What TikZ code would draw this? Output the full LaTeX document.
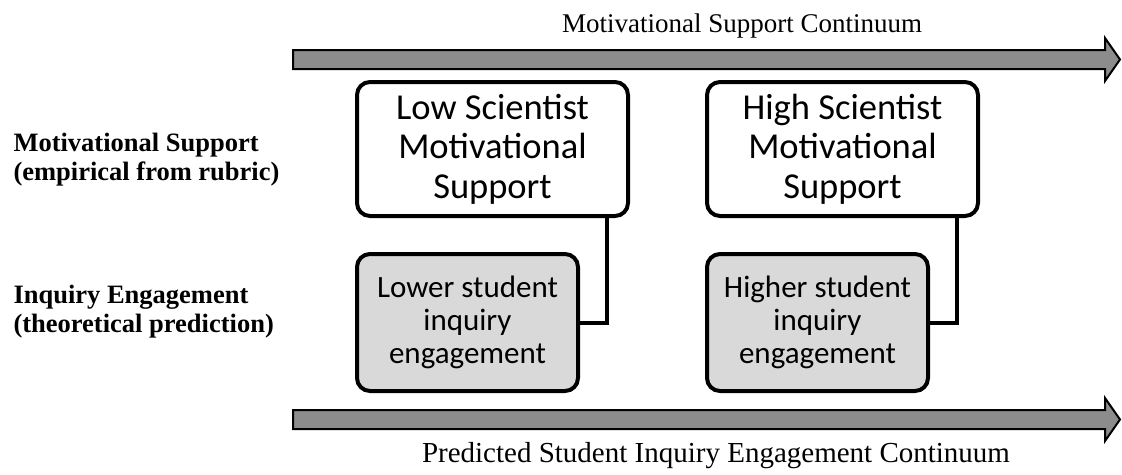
\documentclass[tikz,border=0pt]{standalone}
\usepackage{fontspec}
\setmainfont{Liberation Serif}
\newfontfamily\boxfont{Carlito}
\usetikzlibrary{positioning}

\tikzset{
  support/.style={draw,line width=4pt,rounded corners=13pt,fill=white,
    minimum width=271pt,minimum height=134pt,align=center,
    font=\boxfont\fontsize{36.5}{39.5}\selectfont},
  engage/.style={support,fill=black!15,minimum width=221pt,minimum height=137pt,
    font=\boxfont\fontsize{31}{33}\selectfont},
  rowlabel/.style={anchor=west,align=left,font=\bfseries\fontsize{26.5}{29}\selectfont},
  axislabel/.style={font=\fontsize{27}{30}\selectfont},
  link/.style={line width=4pt},
  band/.style={draw=black,fill=black!45,line width=2pt,line join=miter}
}

\begin{document}
\begin{tikzpicture}[x=1pt,y=-1pt]
  \useasboundingbox (0,0) rectangle (1122,474);

  % continuum arrows
  \draw[band] (293,50) -- (1105,50) -- (1105,38) -- (1120,59.5) -- (1105,81)
    -- (1105,69) -- (293,69) -- cycle;
  \draw[band] (293,410) -- (1105,410) -- (1105,398) -- (1120,419.5) -- (1105,441)
    -- (1105,429) -- (293,429) -- cycle;
  \node[axislabel] (supaxis) at (742,26) {Motivational Support Continuum};
  \node[axislabel,font=\fontsize{29}{32}\selectfont] (engaxis) at (716,456) {Predicted Student Inquiry Engagement Continuum};

  % row labels
  \node[rowlabel] (suplabel) at (10,160) {Motivational Support\\(empirical from rubric)};
  \node[rowlabel] (englabel) at (10,312) {Inquiry Engagement\\(theoretical prediction)};

  % boxes
  \node[support] (lowsup) at (492.5,149) {Low Scientist\\Motivational\\Support};
  \node[support] (highsup) [right=75pt of lowsup] {High Scientist\\Motivational\\Support};

  \node[engage] (loweng) [below=34pt of lowsup.south west, anchor=north west] {Lower student\\inquiry\\engagement};
  \node[engage] (higheng) [below=34pt of highsup.south west, anchor=north west] {Higher student\\inquiry\\engagement};

  \draw[link] ([xshift=-23pt]lowsup.south east) |- (loweng.east);
  \draw[link] ([xshift=-23pt]highsup.south east) |- (higheng.east);
\end{tikzpicture}
\end{document}
